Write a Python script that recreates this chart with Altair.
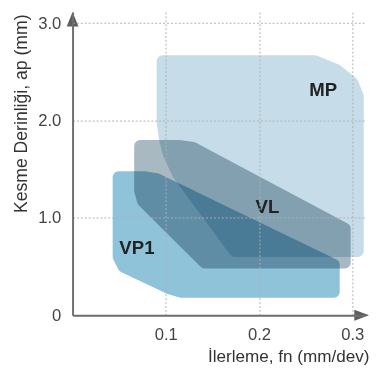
import altair as alt
import pandas as pd

# Region outlines (fn in mm/dev, ap in mm)
MP_x = [0.0965, 0.260, 0.283, 0.300, 0.306, 0.306, 0.174, 0.113, 0.103, 0.099, 0.0965]
MP_y = [2.61, 2.61, 2.52, 2.39, 2.25, 0.66, 0.66, 1.45, 1.66, 1.81, 1.98]
VL_x = [0.0724, 0.114, 0.129, 0.143, 0.292, 0.292, 0.142, 0.102, 0.0756, 0.0724]
VL_y = [1.74, 1.74, 1.72, 1.65, 0.89, 0.54, 0.54, 0.92, 1.17, 1.28]
VP1_x = [0.0493, 0.0766, 0.0902, 0.1028, 0.2802, 0.2802, 0.1165, 0.1028, 0.0546, 0.0493]
VP1_y = [1.42, 1.42, 1.40, 1.34, 0.52, 0.24, 0.24, 0.28, 0.50, 0.60]

names = ["MP", "VL", "VP1"]
colors = ["#c6dde9", "#a8b9c1", "#8fc3da"]
label_x = [0.2687, 0.209, 0.069]
label_y = [2.31, 1.11, 0.69]

x_ticks = [0.1, 0.2, 0.3]
y_ticks = [0, 1, 2, 3]
x_title = "İlerleme, fn (mm/dev)"
y_title = "Kesme Derinliği, ap (mm)"

rows = []
for n, xs, ys in [("MP", MP_x, MP_y), ("VL", VL_x, VL_y), ("VP1", VP1_x, VP1_y)]:
    for i, (a, b) in enumerate(zip(xs, ys)):
        rows.append({"name": n, "i": i, "fn": a, "ap": b})
shapes = pd.DataFrame(rows)
labels = pd.DataFrame({"name": names, "fn": label_x, "ap": label_y})

XMAX, YMAX = 0.3127, 3.115
xs = alt.Scale(domain=[0, XMAX], nice=False, zero=False)
ys = alt.Scale(domain=[0, YMAX], nice=False, zero=False)
cs = alt.Scale(domain=names, range=colors)

FONT = "Liberation Sans"
xaxis = alt.Axis(values=x_ticks, format=".1f", grid=True, gridDash=[2, 2], gridColor="#b0b0b0",
                 gridWidth=1, ticks=False, domainColor="#6e6e6e", domainWidth=2,
                 labelFont=FONT, labelFontSize=17, labelColor="#444",
                 labelPadding=25, labelBaseline="alphabetic",
                 title=x_title, titleFont=FONT, titleFontSize=17.5, titleFontWeight="normal",
                 titleColor="#333", titleX=303, titleY=47, titleAlign="right",
                 titleBaseline="alphabetic", zindex=1)
yaxis = alt.Axis(values=y_ticks, grid=True, gridDash=[2, 2], gridColor="#b0b0b0",
                 gridWidth=1, ticks=False, domainColor="#6e6e6e", domainWidth=2,
                 labelExpr="datum.value == 0 ? '0' : format(datum.value, '.1f')",
                 labelFont=FONT, labelFontSize=17, labelColor="#444",
                 labelPadding=12,
                 title=y_title, titleFont=FONT, titleFontSize=18, titleFontWeight="normal",
                 titleColor="#333", titleX=-47, titleY=2, titleAngle=270, titleAlign="right",
                 titleBaseline="alphabetic", zindex=1)

base = alt.Chart(shapes)
regions = base.mark_line(interpolate="linear-closed", strokeWidth=12, strokeJoin="round",
                         blend="multiply").encode(
    x=alt.X("fn:Q", scale=xs, axis=xaxis),
    y=alt.Y("ap:Q", scale=ys, axis=yaxis),
    fill=alt.Fill("name:N", scale=cs, legend=None),
    stroke=alt.Stroke("name:N", scale=cs, legend=None),
    detail="name:N",
    order="i:Q",
)

text = alt.Chart(labels).mark_text(font="Liberation Sans", fontWeight="bold", fontSize=19,
                                   color="#222").encode(
    x=alt.X("fn:Q", scale=xs), y=alt.Y("ap:Q", scale=ys), text="name:N")

arrow_x = alt.Chart(pd.DataFrame({"fn": [0.3022], "ap": [0]})).mark_point(
    shape="M 0 -0.75 L 2 0 L 0 0.75 Z", size=225, filled=True, opacity=1, color="#5e5e5e"
).encode(x=alt.X("fn:Q", scale=xs), y=alt.Y("ap:Q", scale=ys))
arrow_y = alt.Chart(pd.DataFrame({"fn": [0], "ap": [2.965]})).mark_point(
    shape="M -0.8 0 L 0 -2 L 0.8 0 Z", size=225, filled=True, opacity=1, color="#5e5e5e"
).encode(x=alt.X("fn:Q", scale=xs), y=alt.Y("ap:Q", scale=ys))

chart = alt.layer(regions, text, arrow_x, arrow_y).properties(
    width=298, height=310,
    autosize=alt.AutoSizeParams(type="none"),
    padding={"left": 66, "top": 0, "right": 6, "bottom": 60},
).configure_view(stroke=None)

chart.save("out.html", embed_options={"renderer": "svg", "actions": False})
